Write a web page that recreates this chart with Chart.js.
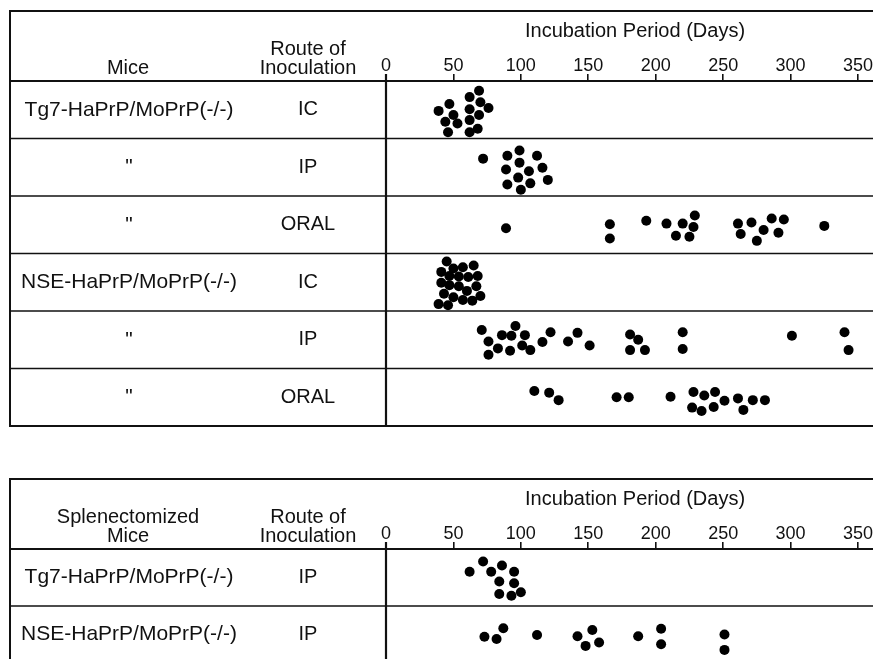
<!DOCTYPE html>
<html>
<head>
<meta charset="utf-8">
<script src="https://cdn.jsdelivr.net/npm/chart.js@4.4.1/dist/chart.umd.min.js"></script>
<style>
  html,body{margin:0;padding:0;background:#fff;overflow:hidden;width:873px;height:659px;}
  canvas{position:absolute;left:0;}
  #c1{top:0;}
  #c2{top:468px;}
</style>
</head>
<body>
<canvas id="c1" width="873" height="445"></canvas>
<canvas id="c2" width="873" height="200"></canvas>
<script>
// ---------- data ----------
const axisTicks = [0, 50, 100, 150, 200, 250, 300, 350];
const axisTitle = 'Incubation Period (Days)';

const panel1Header = ['Mice', 'Route of', 'Inoculation'];
const panel1Mice = ['Tg7-HaPrP/MoPrP(-/-)', '"', '"', 'NSE-HaPrP/MoPrP(-/-)', '"', '"'];
const panel1Routes = ['IC', 'IP', 'ORAL', 'IC', 'IP', 'ORAL'];

const panel2Header = ['Splenectomized', 'Mice', 'Route of', 'Inoculation'];
const panel2Mice = ['Tg7-HaPrP/MoPrP(-/-)', 'NSE-HaPrP/MoPrP(-/-)'];
const panel2Routes = ['IP', 'IP'];

// incubation period (days) and in-row lane offset for each animal
const tg7IcDays = [39, 47, 50, 44, 53, 46, 62, 69, 70, 62, 76, 69, 62, 62, 68];
const tg7IcLane = [0.02, -0.10, 0.09, 0.21, 0.24, 0.39, -0.22, -0.33, -0.13, -0.01, -0.03, 0.09, 0.18, 0.39, 0.33];

const tg7IpDays = [72, 90, 99, 112, 89, 99, 106, 116, 98, 107, 120, 90, 100];
const tg7IpLane = [-0.15, -0.20, -0.29, -0.20, 0.04, -0.08, 0.07, 0.01, 0.18, 0.28, 0.22, 0.30, 0.39];

const tg7OralDays = [89, 166, 166, 193, 208, 220, 229, 228, 215, 225, 261, 271, 263, 280, 286, 295, 291, 275, 325];
const tg7OralLane = [0.06, -0.01, 0.24, -0.07, -0.02, -0.02, -0.16, 0.04, 0.19, 0.21, -0.02, -0.04, 0.16, 0.09, -0.11, -0.09, 0.14, 0.28, 0.02];

const nseIcDays = [45, 41, 50, 57, 65, 47, 54, 61, 68, 41, 47, 54, 60, 67, 43, 50, 57, 64, 70, 39, 46];
const nseIcLane = [-0.36, -0.18, -0.24, -0.26, -0.29, -0.11, -0.10, -0.09, -0.11, 0.01, 0.05, 0.07, 0.15, 0.07, 0.20, 0.26, 0.31, 0.32, 0.24, 0.38, 0.40];

const nseIpDays = [71, 76, 76, 83, 86, 93, 96, 92, 101, 103, 107, 116, 122, 135, 142, 151, 181, 187, 181, 192, 220, 220, 301, 340, 343];
const nseIpLane = [-0.17, 0.03, 0.26, 0.15, -0.08, -0.07, -0.24, 0.19, 0.10, -0.08, 0.18, 0.04, -0.13, 0.03, -0.12, 0.10, -0.09, 0.00, 0.18, 0.18, -0.13, 0.16, -0.07, -0.13, 0.18];

const nseOralDays = [110, 121, 128, 171, 180, 211, 228, 236, 244, 251, 261, 272, 281, 227, 234, 243, 265];
const nseOralLane = [-0.11, -0.08, 0.05, 0.00, 0.00, -0.01, -0.09, -0.03, -0.09, 0.06, 0.02, 0.05, 0.05, 0.18, 0.24, 0.17, 0.22];

const splTg7IpDays = [62, 72, 78, 86, 95, 84, 95, 84, 93, 100];
const splTg7IpLane = [-0.10, -0.28, -0.10, -0.21, -0.10, 0.07, 0.10, 0.29, 0.32, 0.26];

const splNseIpDays = [73, 82, 87, 112, 142, 153, 148, 158, 187, 204, 204, 251, 251];
const splNseIpLane = [0.04, 0.08, -0.11, 0.01, 0.03, -0.08, 0.20, 0.14, 0.03, -0.10, 0.17, 0.00, 0.27];

// ---------- helpers ----------
const FONT = '"Liberation Sans", Arial, Helvetica, sans-serif';
const INK = '#111';

function rowPoints(days, lane, row) {
  return days.map((d, i) => ({ x: d, y: row + 0.5 + lane[i] }));
}

const framePlugin = {
  id: 'frame',
  afterDraw(chart, args, opts) {
    const { ctx, chartArea, scales } = chart;
    const { top, bottom } = chartArea;
    const xs = scales.x, ys = scales.y;
    const L = 10, R = 873;
    const frameTop = top - 70;
    const line = (x1, y1, x2, y2, w) => {
      ctx.beginPath(); ctx.lineWidth = w; ctx.moveTo(x1, y1); ctx.lineTo(x2, y2); ctx.stroke();
    };
    ctx.save();
    ctx.strokeStyle = INK;
    line(L, frameTop, R, frameTop, 2);
    line(L, top, R, top, 2);
    for (let i = 1; i <= opts.rows; i++) {
      const yy = ys.getPixelForValue(i);
      line(L, yy, R, yy, i === opts.rows ? 2 : 1.6);
    }
    line(L, frameTop - 1, L, bottom + 1, 2);
    const x0 = xs.getPixelForValue(0);
    line(x0, top - 7, x0, bottom, 2.2);

    ctx.fillStyle = INK;
    ctx.textAlign = 'center';
    ctx.textBaseline = 'middle';
    ctx.font = '20px ' + FONT;
    // title
    ctx.fillText(opts.title, 635, top - 49.5);
    // header
    const h = opts.header;
    if (h.length === 3) {
      ctx.fillText(h[0], 128, top - 12.5);
      ctx.fillText(h[1], 308, top - 31.5);
      ctx.fillText(h[2], 308, top - 12.5);
    } else {
      ctx.fillText(h[0], 128, top - 31.5);
      ctx.fillText(h[1], 128, top - 12.5);
      ctx.fillText(h[2], 308, top - 31.5);
      ctx.fillText(h[3], 308, top - 12.5);
    }
    // rows
    for (let i = 0; i < opts.rows; i++) {
      const yc = ys.getPixelForValue(i + 0.5);
      ctx.font = '21px ' + FONT;
      ctx.fillText(opts.mice[i], 129, yc);
      ctx.font = '20px ' + FONT;
      ctx.fillText(opts.routes[i], 308, yc);
    }
    ctx.restore();
  }
};

function makeChart(id, rows, datasets, header, mice, routes, padTop, padBottom) {
  return new Chart(document.getElementById(id), {
    type: 'scatter',
    data: { datasets },
    options: {
      responsive: false,
      animation: false,
      devicePixelRatio: 1,
      layout: { padding: { left: 386, right: 15, top: padTop, bottom: padBottom } },
      plugins: {
        legend: { display: false },
        tooltip: { enabled: false },
        frame: { rows, header, mice, routes, title: axisTitle }
      },
      elements: { point: { radius: 5, backgroundColor: '#000', borderWidth: 0, hoverRadius: 5 } },
      scales: {
        x: {
          type: 'linear', position: 'top', min: 0, max: 350,
          afterBuildTicks: s => { s.ticks = axisTicks.map(v => ({ value: v })); },
          afterFit: s => { s.height = 70; },
          grid: { drawOnChartArea: false, drawTicks: true, tickLength: 7, color: INK, lineWidth: 1.6 },
          border: { display: false },
          ticks: { color: INK, font: { family: FONT, size: 18 }, padding: -3, maxRotation: 0, autoSkip: false }
        },
        y: { type: 'linear', min: 0, max: rows, reverse: true, display: false }
      }
    },
    plugins: [framePlugin]
  });
}

const ds = (days, lane, row) => ({ data: rowPoints(days, lane, row), backgroundColor: '#000', clip: false });

makeChart('c1', 6, [
  ds(tg7IcDays, tg7IcLane, 0),
  ds(tg7IpDays, tg7IpLane, 1),
  ds(tg7OralDays, tg7OralLane, 2),
  ds(nseIcDays, nseIcLane, 3),
  ds(nseIpDays, nseIpLane, 4),
  ds(nseOralDays, nseOralLane, 5)
], panel1Header, panel1Mice, panel1Routes, 11, 445 - 426);

makeChart('c2', 2, [
  ds(splTg7IpDays, splTg7IpLane, 0),
  ds(splNseIpDays, splNseIpLane, 1)
], panel2Header, panel2Mice, panel2Routes, 11, 200 - 195);
</script>
</body>
</html>
